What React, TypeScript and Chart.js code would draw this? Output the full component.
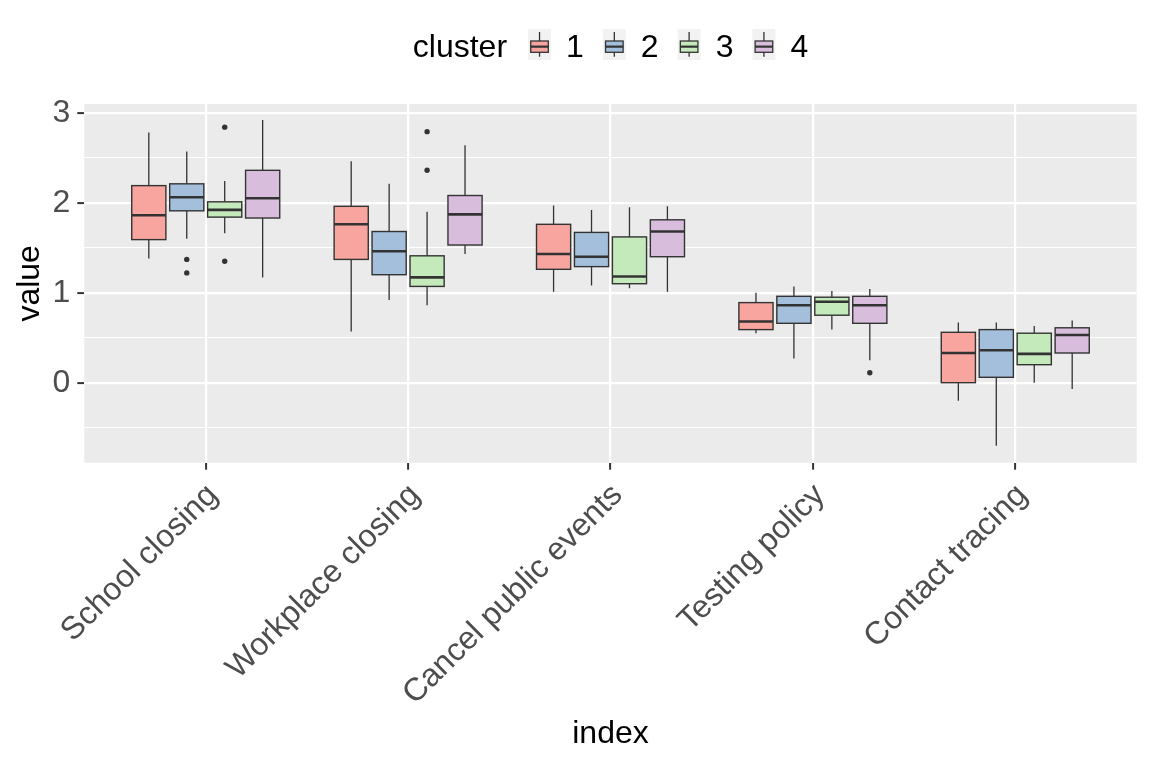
import React, { useEffect, useRef } from "react";
import { Chart, registerables } from "chart.js";

Chart.register(...registerables);

// ---------- data ----------
const categories = [
  "School closing",
  "Workplace closing",
  "Cancel public events",
  "Testing policy",
  "Contact tracing",
];
const clusterNames = ["1", "2", "3", "4"];
const clusterFills = ["#F8A5A0", "#A4BFDC", "#C4E9BB", "#D8BEDC"];

// per category: [lower whisker, Q1, median, Q3, upper whisker]
const cluster1Stats = [
  [1.38, 1.59, 1.86, 2.19, 2.78],
  [0.57, 1.37, 1.76, 1.96, 2.46],
  [1.01, 1.26, 1.43, 1.76, 1.97],
  [0.55, 0.59, 0.68, 0.89, 1.0],
  [-0.2, 0.0, 0.33, 0.56, 0.67],
];
const cluster2Stats = [
  [1.6, 1.91, 2.06, 2.21, 2.57],
  [0.92, 1.2, 1.46, 1.68, 2.21],
  [1.08, 1.29, 1.4, 1.67, 1.92],
  [0.27, 0.66, 0.86, 0.96, 1.07],
  [-0.7, 0.06, 0.36, 0.59, 0.67],
];
const cluster3Stats = [
  [1.66, 1.84, 1.92, 2.01, 2.24],
  [0.86, 1.07, 1.17, 1.41, 1.9],
  [1.05, 1.1, 1.18, 1.62, 1.95],
  [0.59, 0.75, 0.9, 0.95, 1.02],
  [0.0, 0.2, 0.32, 0.55, 0.63],
];
const cluster4Stats = [
  [1.17, 1.83, 2.05, 2.36, 2.92],
  [1.43, 1.53, 1.87, 2.08, 2.64],
  [1.01, 1.4, 1.68, 1.81, 1.96],
  [0.25, 0.66, 0.86, 0.96, 1.04],
  [-0.07, 0.33, 0.53, 0.61, 0.69],
];

// outliers per category
const cluster1Outliers: number[][] = [[], [], [], [], []];
const cluster2Outliers: number[][] = [[1.37, 1.22], [], [], [], []];
const cluster3Outliers: number[][] = [[2.84, 1.35], [2.79, 2.36], [], [], []];
const cluster4Outliers: number[][] = [[], [], [], [0.11], []];

const yTickValues = [-0.5, 0, 0.5, 1, 1.5, 2, 2.5, 3];
const xTickValues = [1, 2, 3, 4, 5];

const clusterStats = [cluster1Stats, cluster2Stats, cluster3Stats, cluster4Stats];
const clusterOutliers = [cluster1Outliers, cluster2Outliers, cluster3Outliers, cluster4Outliers];

// ---------- styling ----------
const FONT = "'Liberation Sans', Arial, Helvetica, sans-serif";
const DODGE = 0.1875;
const BOX_W = 0.16875;
const LINE = "#333333";

const xPos = (cat: number, c: number) => cat + 1 + (c - 1.5) * DODGE;

const boxPlugin = {
  id: "ggBoxes",
  beforeDraw(chart: any) {
    const { ctx, chartArea } = chart;
    ctx.save();
    ctx.fillStyle = "#EBEBEB";
    ctx.fillRect(chartArea.left, chartArea.top, chartArea.right - chartArea.left, chartArea.bottom - chartArea.top);
    ctx.restore();
  },
  beforeDatasetsDraw(chart: any) {
    const { ctx } = chart;
    const xs = chart.scales.x;
    const ys = chart.scales.y;
    ctx.save();
    clusterStats.forEach((stats, c) => {
      stats.forEach(([lo, q1, med, q3, hi], i) => {
        const cx = xs.getPixelForValue(xPos(i, c));
        const l = xs.getPixelForValue(xPos(i, c) - BOX_W / 2);
        const r = xs.getPixelForValue(xPos(i, c) + BOX_W / 2);
        const yLo = ys.getPixelForValue(lo);
        const yQ1 = ys.getPixelForValue(q1);
        const yMed = ys.getPixelForValue(med);
        const yQ3 = ys.getPixelForValue(q3);
        const yHi = ys.getPixelForValue(hi);
        ctx.strokeStyle = LINE;
        ctx.lineWidth = 1.3;
        ctx.beginPath();
        ctx.moveTo(cx, yHi);
        ctx.lineTo(cx, yQ3);
        ctx.moveTo(cx, yQ1);
        ctx.lineTo(cx, yLo);
        ctx.stroke();
        ctx.fillStyle = clusterFills[c];
        ctx.fillRect(l, yQ3, r - l, yQ1 - yQ3);
        ctx.lineWidth = 1.4;
        ctx.strokeRect(l, yQ3, r - l, yQ1 - yQ3);
        ctx.lineWidth = 2.6;
        ctx.beginPath();
        ctx.moveTo(l, yMed);
        ctx.lineTo(r, yMed);
        ctx.stroke();
      });
    });
    ctx.restore();
  },
  afterDraw(chart: any) {
    const { ctx, chartArea } = chart;
    ctx.save();
    ctx.font = `32px ${FONT}`;
    ctx.fillStyle = "#000000";
    ctx.textBaseline = "alphabetic";
    const title = "cluster";
    const titleW = ctx.measureText(title).width;
    const keyW = 23;
    const gapTitle = 21;
    const gapKeyLabel = 15;
    const gapItem = 19;
    const labelWs = clusterNames.map((n) => ctx.measureText(n).width);
    let total = titleW + gapTitle;
    labelWs.forEach((w, i) => {
      total += keyW + gapKeyLabel + w + (i < labelWs.length - 1 ? gapItem : 0);
    });
    const center = (chartArea.left + chartArea.right) / 2;
    let x = center - total / 2;
    const baseline = 56.7;
    ctx.textAlign = "left";
    ctx.fillText(title, x, baseline);
    x += titleW + gapTitle;
    clusterNames.forEach((n, i) => {
      ctx.fillStyle = "#F2F2F2";
      ctx.fillRect(x, 29, keyW, 31);
      const kcx = x + keyW / 2;
      ctx.strokeStyle = LINE;
      ctx.lineWidth = 1.3;
      ctx.beginPath();
      ctx.moveTo(kcx, 32);
      ctx.lineTo(kcx, 41);
      ctx.moveTo(kcx, 52.3);
      ctx.lineTo(kcx, 56.7);
      ctx.stroke();
      ctx.fillStyle = clusterFills[i];
      ctx.fillRect(x + 2.7, 41, keyW - 5.4, 11.3);
      ctx.strokeRect(x + 2.7, 41, keyW - 5.4, 11.3);
      ctx.lineWidth = 2.2;
      ctx.beginPath();
      ctx.moveTo(x + 2.7, 46.65);
      ctx.lineTo(x + keyW - 2.7, 46.65);
      ctx.stroke();
      x += keyW + gapKeyLabel;
      ctx.fillStyle = "#000000";
      ctx.fillText(n, x, baseline);
      x += labelWs[i] + gapItem;
    });
    ctx.restore();
  },
};

export default function App() {
  const canvasRef = useRef<HTMLCanvasElement | null>(null);

  useEffect(() => {
    if (!canvasRef.current) return;
    const datasets = clusterOutliers.map((outs, c) => ({
      label: clusterNames[c],
      data: outs.flatMap((vals, i) => vals.map((v) => ({ x: xPos(i, c), y: v }))),
      pointRadius: 2.7,
      pointBackgroundColor: LINE,
      pointBorderWidth: 0,
      showLine: false,
    }));

    const chart = new Chart(canvasRef.current, {
      type: "scatter",
      data: { datasets },
      plugins: [boxPlugin],
      options: {
        animation: false,
        responsive: false,
        devicePixelRatio: 1,
        layout: { padding: { top: 104, right: 15.3, left: 0, bottom: 0 } },
        plugins: { legend: { display: false }, tooltip: { enabled: false } },
        scales: {
          x: {
            type: "linear",
            min: 0.4,
            max: 5.6,
            afterBuildTicks: (scale: any) => {
              scale.ticks = xTickValues.map((v) => ({ value: v }));
            },
            afterFit: (scale: any) => {
              scale.height = 768 - 462.7;
            },
            border: { display: false },
            grid: {
              color: "#FFFFFF",
              lineWidth: 2.2,
              tickLength: 7,
              tickColor: LINE,
              tickWidth: 2,
            },
            ticks: {
              autoSkip: false,
              minRotation: 45,
              maxRotation: 45,
              padding: 7,
              labelOffset: 7,
              color: "#4D4D4D",
              font: { family: FONT, size: 32 },
              callback: (v: any) => categories[Math.round(Number(v)) - 1] ?? "",
            },
            title: {
              display: true,
              text: "index",
              color: "#000000",
              font: { family: FONT, size: 32, lineHeight: 1.2 },
              padding: { top: 0, bottom: 14.3 },
            },
          },
          y: {
            type: "linear",
            min: -0.889,
            max: 3.097,
            afterBuildTicks: (scale: any) => {
              scale.ticks = yTickValues.map((v) => ({ value: v }));
            },
            afterFit: (scale: any) => {
              scale.width = 84.3;
            },
            border: { display: false },
            grid: {
              color: "#FFFFFF",
              lineWidth: (ctx: any) => (Number.isInteger(ctx.tick?.value) ? 2.2 : 1.1),
              tickLength: 7,
              tickColor: (ctx: any) => (Number.isInteger(ctx.tick?.value) ? LINE : "rgba(0,0,0,0)"),
              tickWidth: 2,
            },
            ticks: {
              padding: 7,
              color: "#4D4D4D",
              font: { family: FONT, size: 32 },
              callback: (v: any) => (Number.isInteger(Number(v)) ? String(v) : ""),
            },
            title: {
              display: true,
              text: "value",
              color: "#000000",
              font: { family: FONT, size: 32, lineHeight: 1.2 },
              padding: { top: 11.3, bottom: 0 },
            },
          },
        },
      } as any,
    });
    return () => chart.destroy();
  }, []);

  return (
    <div style={{ position: "absolute", left: 0, top: 0, width: 1152, height: 768, background: "#FFFFFF" }}>
      <canvas ref={canvasRef} width={1152} height={768} style={{ width: 1152, height: 768 }} />
    </div>
  );
}
